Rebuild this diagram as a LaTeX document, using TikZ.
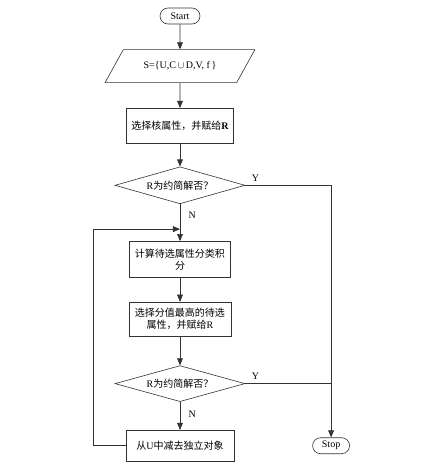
\documentclass[tikz,border=0pt]{standalone}
\usepackage{fontspec}
\setmainfont{Liberation Serif}
\newfontfamily\cjk{Noto Sans CJK SC}
\usetikzlibrary{arrows,positioning,shapes.geometric}

\begin{document}
\begin{tikzpicture}[x=1pt, y=-1pt, font=\fontsize{10}{12}\selectfont,
  line/.style={draw=black!80, line width=0.6pt},
  arr/.style={line, arrows=-triangle 45},
  box/.style={line, rectangle, align=center, inner sep=2pt},
  decide/.style={line, diamond, aspect=3.5, inner sep=0pt,
                 minimum width=130pt},
  term/.style={line, rounded corners=8pt, minimum height=16pt}]
  \useasboundingbox (0,0) rectangle (431,467);

  % Main column
  \node(start)[term, minimum width=40pt] at (180,16) {Start};
  \node[below=25pt of start] (input)[line, trapezium, trapezium left angle=50,
        trapezium right angle=130, trapezium stretches=true,
        minimum width=150pt, minimum height=33pt] {S=\{U,C$\,\cup\,$D,V, f\,\}};
  \node[below=25pt of input] (core)[box, minimum width=107pt, minimum height=35pt]
        {{\cjk 选择核属性，并赋给}\textbf{R}};
  \node[below=23pt of core] (check1)[decide, minimum height=37pt] {R{\cjk 为约简解否？}};
  \node[below=37pt of check1] (score)[box, minimum width=101pt, minimum height=36pt]
        {{\cjk 计算待选属性分类积}\\{\cjk 分}};
  \node[below=24pt of score] (pick)[box, minimum width=102pt, minimum height=34pt]
        {{\cjk 选择分值最高的待选}\\{\cjk 属性，并赋给}R};
  \node[below=29pt of pick] (check2)[decide, minimum height=36pt] {R{\cjk 为约简解否？}};
  \node[below=28pt of check2] (drop)[box, minimum width=108pt, minimum height=31pt]
        {{\cjk 从}U{\cjk 中减去独立对象}};
  \node[right=78pt of drop] (stop)[term, minimum width=37pt] {Stop};

  % Loop and branch points
  \coordinate[below=25pt of check1.south] (join);
  \coordinate[left=87pt of join] (back);
  \coordinate (turn) at (stop.north |- check1.east);

  % Arrows
  \draw[arr] (start) -- (input);
  \draw[arr] (input) -- (core);
  \draw[arr] (core) -- (check1);
  \draw[arr] (check1.south) -- node[right=5pt, pos=0.3] {N} (score.north);
  \draw[arr] (score) -- (pick);
  \draw[arr] (pick) -- (check2);
  \draw[arr] (check2.south) -- node[right=5pt, pos=0.43] {N} (drop.north);
  \draw[arr] (drop.west) -| (back) -- (join);
  \draw[line] (check1.east) -- node[pos=0.12, above] {Y} (turn);
  \draw[arr] (turn) -- (stop.north);
  \draw[line] (check2.east) -- node[pos=0.12, above] {Y} (check2.east -| stop.north);

\end{tikzpicture}
\end{document}
